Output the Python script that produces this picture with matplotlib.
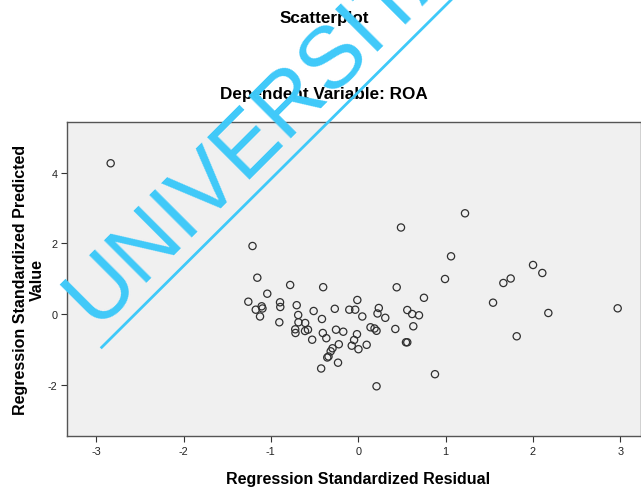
import matplotlib
matplotlib.use("Agg")
import matplotlib.pyplot as plt
from matplotlib.lines import Line2D

# Regression standardized residual (x) and standardized predicted value (y)
residual = [-2.834, -1.210, -1.155, -1.041, -0.779, -0.401, -1.258, -1.173, -1.105, -1.096,
            -1.124, -0.895, -0.892, -0.903, -0.704, -0.687, -0.684, -0.607, -0.721, -0.718,
            -0.609, -0.575, -0.527, -0.510, -0.415, -0.405, -0.365, -0.268, -0.254, -0.171,
            -0.222, -0.294, -0.315, -0.340, -0.354, -0.231, -0.424, -0.102, -0.034, -0.010,
            -0.014, -0.047, -0.074, 0.003, 0.047, 0.097, 0.236, 0.221, 0.310, 0.141,
            0.187, 0.210, 0.425, 0.562, 0.618, 0.696, 0.631, 0.547, 0.562, 0.441,
            0.753, 0.490, 1.223, 1.063, 0.994, 1.662, 1.746, 2.002, 2.108, 1.544,
            2.177, 2.971, 1.815, 0.879, 0.210]
predicted = [4.266, 1.929, 1.034, 0.582, 0.828, 0.766, 0.356, 0.130, 0.226, 0.164,
             -0.062, 0.339, 0.206, -0.226, 0.257, -0.020, -0.226, -0.246, -0.424, -0.528,
             -0.472, -0.435, -0.718, 0.093, -0.133, -0.528, -0.675, 0.155, -0.435, -0.492,
             -0.847, -0.960, -1.045, -1.192, -1.220, -1.367, -1.531, 0.130, 0.130, 0.404,
             -0.562, -0.726, -0.887, -0.986, -0.062, -0.862, 0.178, 0.023, -0.099, -0.367,
             -0.401, -0.466, -0.415, 0.121, 0.008, -0.028, -0.339, -0.791, -0.791, 0.763,
             0.466, 2.452, 2.853, 1.638, 0.997, 0.884, 1.011, 1.393, 1.167, 0.328,
             0.037, 0.169, -0.621, -1.692, -2.034]

x_ticks = [-3, -2, -1, 0, 1, 2, 3]
y_ticks = [-2, 0, 2, 4]

W, H = 641, 489
plt.rcParams["font.family"] = ["Liberation Sans", "DejaVu Sans"]
plt.rcParams["axes.unicode_minus"] = False
fig = plt.figure(figsize=(W / 100, H / 100), dpi=100)
fig.patch.set_facecolor("white")

left, right, top, bottom = 67, 641, 123, 437
ax = fig.add_axes([left / W, 1 - bottom / H, (right - left) / W, (bottom - top) / H])
ax.set_facecolor("#F0F0F0")
ax.scatter(residual, predicted, s=27, facecolors="none", edgecolors="#303030",
           linewidths=0.9, zorder=3)
ax.set_xlim(-3.334, 3.238)
ax.set_ylim(-3.438, 5.432)
ax.set_xticks(x_ticks)
ax.set_yticks(y_ticks)
ax.tick_params(direction="out", length=4, width=0.8, colors="#333333",
               labelsize=7.8, labelcolor="#222222", pad=3)
for s in ax.spines.values():
    s.set_color("#555555")
    s.set_linewidth(1.0)

ax.set_xlabel("Regression Standardized Residual", fontsize=11.5, fontweight="bold")
ax.xaxis.set_label_coords((358.5 - left) / (right - left), -(480 - bottom) / (bottom - top),
                          transform=ax.transAxes)
ax.xaxis.label.set_va("center")
ax.set_ylabel("Regression Standardized Predicted\nValue", fontsize=11.5,
              fontweight="bold", linespacing=1.15)
ax.yaxis.set_label_coords(-(left - 29) / (right - left), 0.5, transform=ax.transAxes)
ax.yaxis.label.set_va("center")

fig.text(324 / W, 1 - 19 / H, "Scatterplot", ha="center", va="center",
         fontsize=12.3, fontweight="bold")
fig.text(324 / W, 1 - 95 / H, "Dependent Variable: ROA", ha="center", va="center",
         fontsize=12.3, fontweight="bold")

# watermark
wm = "#3FC9F9"
fig.text(96 / W, 1 - 327 / H, "UNIVERSITAS", rotation=45, rotation_mode="anchor",
         ha="left", va="baseline", fontsize=63, color=wm, zorder=10)
fig.add_artist(Line2D([101.7 / W, 460 / W], [1 - 348.3 / H, 1 - (-8) / H],
                      color=wm, linewidth=2.0, zorder=10))

fig.savefig("out.png", dpi=100)
